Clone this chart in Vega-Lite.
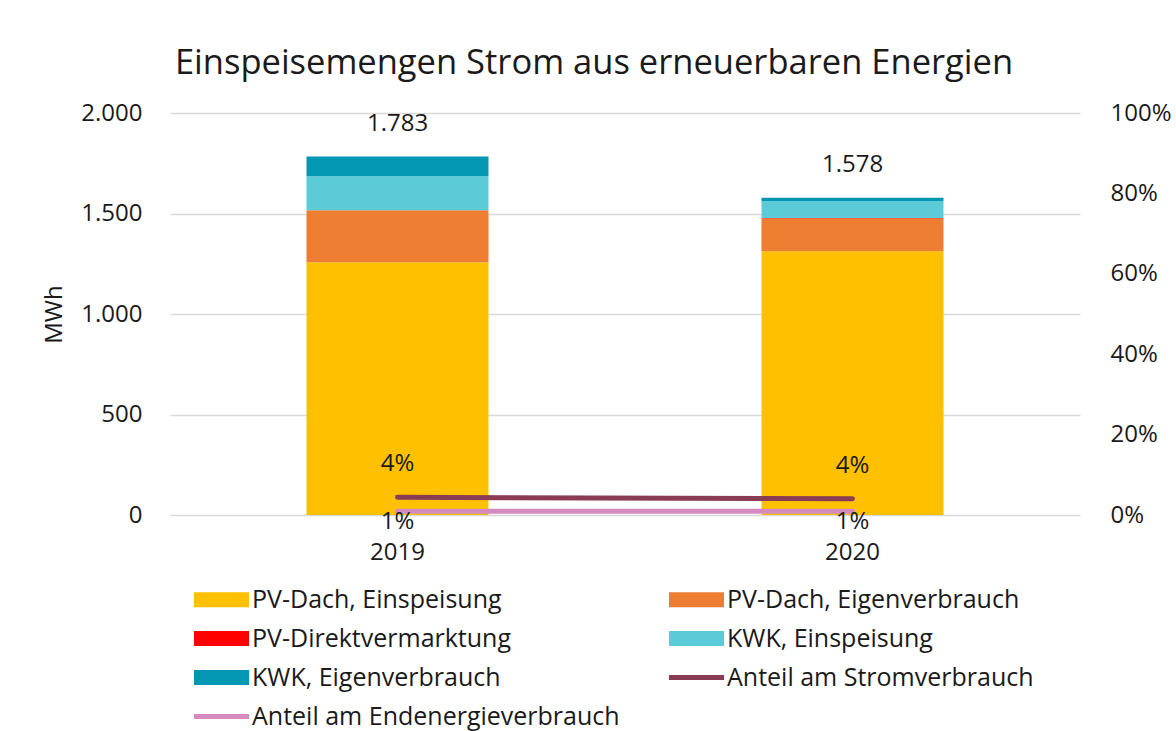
{
  "$schema": "https://vega.github.io/schema/vega-lite/v6.json",
  "width": 910,
  "height": 402,
  "autosize": {"type": "none"},
  "padding": {"left": 170, "top": 113, "right": 96, "bottom": 216},
  "background": "white",
  "config": {
    "locale": {"number": {"decimal": ",", "thousands": ".", "grouping": [3], "currency": ["", " €"]}},
    "font": "Open Sans",
    "view": {"stroke": null},
    "axis": {"labelFont": "Open Sans", "labelFontSize": 24, "labelColor": "#1a1a1a", "titleFont": "Open Sans", "titleFontSize": 24, "titleFontWeight": "normal", "titleColor": "#1a1a1a", "domain": false, "ticks": false},
    "legend": {"labelFont": "Open Sans", "labelFontSize": 25, "labelColor": "#1a1a1a", "labelLimit": 600}
  },
  "title": {"text": "Einspeisemengen Strom aus erneuerbaren Energien", "fontSize": 34.5, "fontWeight": "normal", "color": "#1a1a1a", "font": "Open Sans", "offset": 20, "dx": -31},
  "datasets": {
    "bars": [
      {"year": "2019", "series": "PV-Dach, Einspeisung", "mwh": 1257},
      {"year": "2019", "series": "PV-Dach, Eigenverbrauch", "mwh": 259},
      {"year": "2019", "series": "PV-Direktvermarktung", "mwh": 0},
      {"year": "2019", "series": "KWK, Einspeisung", "mwh": 169},
      {"year": "2019", "series": "KWK, Eigenverbrauch", "mwh": 98},
      {"year": "2020", "series": "PV-Dach, Einspeisung", "mwh": 1312},
      {"year": "2020", "series": "PV-Dach, Eigenverbrauch", "mwh": 163},
      {"year": "2020", "series": "PV-Direktvermarktung", "mwh": 3},
      {"year": "2020", "series": "KWK, Einspeisung", "mwh": 84},
      {"year": "2020", "series": "KWK, Eigenverbrauch", "mwh": 16}
    ],
    "totals": [
      {"year": "2019", "total": 1783},
      {"year": "2020", "total": 1578}
    ],
    "lines": [
      {"year": "2019", "series": "Anteil am Stromverbrauch", "share": 0.044},
      {"year": "2020", "series": "Anteil am Stromverbrauch", "share": 0.0405},
      {"year": "2019", "series": "Anteil am Endenergieverbrauch", "share": 0.0092},
      {"year": "2020", "series": "Anteil am Endenergieverbrauch", "share": 0.0092}
    ]
  },
  "encoding": {
    "x": {"field": "year", "type": "nominal", "scale": {"paddingInner": 0.6, "paddingOuter": 0.3}, "axis": {"title": null, "labelAngle": 0, "labelPadding": 25, "grid": false}}
  },
  "layer": [
    {
      "data": {"name": "bars"},
      "layer": [
        {
          "transform": [{"calculate": "indexof(['PV-Dach, Einspeisung','PV-Dach, Eigenverbrauch','PV-Direktvermarktung','KWK, Einspeisung','KWK, Eigenverbrauch'], datum.series)", "as": "ord"}],
          "mark": {"type": "bar"},
          "encoding": {
            "y": {"field": "mwh", "type": "quantitative", "stack": "zero", "scale": {"domain": [0, 2000], "nice": false}, "axis": {"title": "MWh", "values": [0, 500, 1000, 1500, 2000], "format": ",d", "grid": true, "gridColor": "#d9d9d9", "gridWidth": 1.5, "labelPadding": 28, "titlePadding": 14, "orient": "left"}},
            "order": {"field": "ord", "type": "quantitative"},
            "color": {
              "field": "series", "type": "nominal",
              "scale": {
                "domain": ["PV-Dach, Einspeisung", "PV-Dach, Eigenverbrauch", "PV-Direktvermarktung", "KWK, Einspeisung", "KWK, Eigenverbrauch", "Anteil am Stromverbrauch", "Anteil am Endenergieverbrauch"],
                "range": ["#FFC000", "#ED7D31", "#FF0000", "#5BCBD8", "#0397B4", "#8B3C55", "#D68BC0"]
              },
              "legend": {
                "title": null, "orient": "none", "legendX": 19, "legendY": 474, "columns": 2, "direction": "horizontal", "columnPadding": 44, "rowPadding": 13,
                "symbolSize": 225, "symbolType": "square", "labelOffset": 18, "symbolOffset": 20,
                "encode": {
                  "symbols": {"update": {
                    "shape": {"signal": "indexof(datum.value, 'Anteil') === 0 ? 'M-3.67,-0.33H3.67V0.33H-3.67Z' : 'M-3.67,-1H3.67V1H-3.67Z'"},
                    "fill": {"signal": "scale('color', datum.value)"},
                    "fillOpacity": {"value": 1},
                    "stroke": {"value": "transparent"},
                    "strokeWidth": {"value": 0}
                  }}
                }
              }
            }
          }
        },
        {
          "data": {"name": "totals"},
          "mark": {"type": "text", "dy": -33, "fontSize": 24, "color": "#1a1a1a", "font": "Open Sans"},
          "encoding": {
            "y": {"field": "total", "type": "quantitative"},
            "text": {"field": "total", "type": "quantitative", "format": ",d"}
          }
        }
      ]
    },
    {
      "data": {"name": "lines"},
      "layer": [
        {
          "mark": {"type": "line", "strokeWidth": 5, "strokeCap": "round"},
          "encoding": {
            "y": {"field": "share", "type": "quantitative", "scale": {"domain": [0, 1], "nice": false}, "axis": {"orient": "right", "title": null, "values": [0, 0.2, 0.4, 0.6, 0.8, 1], "format": ".0%", "grid": false, "labelPadding": 30}},
            "color": {"field": "series", "type": "nominal"}
          }
        },
        {
          "transform": [{"filter": "datum.series === 'Anteil am Stromverbrauch'"}],
          "mark": {"type": "text", "dy": -33, "fontSize": 24, "color": "#1a1a1a", "font": "Open Sans"},
          "encoding": {
            "y": {"field": "share", "type": "quantitative"},
            "text": {"field": "share", "type": "quantitative", "format": ".0%"}
          }
        },
        {
          "transform": [{"filter": "datum.series === 'Anteil am Endenergieverbrauch'"}],
          "mark": {"type": "text", "dy": 11, "fontSize": 24, "color": "#1a1a1a", "font": "Open Sans"},
          "encoding": {
            "y": {"field": "share", "type": "quantitative"},
            "text": {"field": "share", "type": "quantitative", "format": ".0%"}
          }
        }
      ]
    }
  ],
  "resolve": {"scale": {"y": "independent"}}
}
